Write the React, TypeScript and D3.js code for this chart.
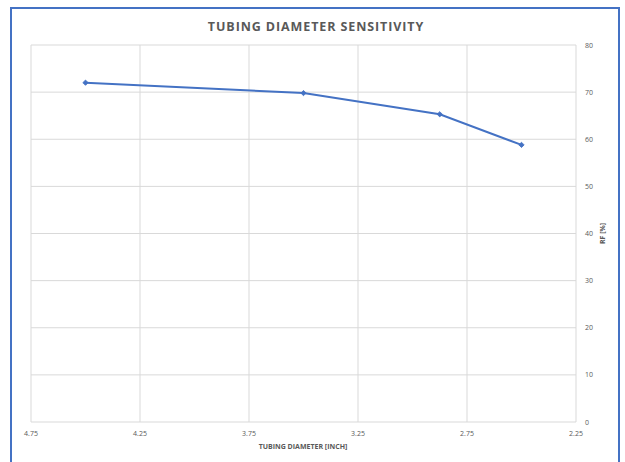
import React from "react";
import * as d3 from "d3";

const diameters = [4.5, 3.5, 2.875, 2.5];
const rfValues = [72.0, 69.8, 65.3, 58.8];
const xTicks = [4.75, 4.25, 3.75, 3.25, 2.75, 2.25];
const yTicks = [0, 10, 20, 30, 40, 50, 60, 70, 80];

const W = 625;
const H = 462;
const plot = { left: 31, right: 576, top: 45, bottom: 422 };
const font = "'Open Sans', 'Noto Sans', sans-serif";
const textColor = "#595959";
const blue = "#4472C4";

export default function App() {
  const x = d3.scaleLinear().domain([4.75, 2.25]).range([plot.left, plot.right]);
  const y = d3.scaleLinear().domain([0, 80]).range([plot.bottom, plot.top]);
  const line = d3
    .line<number>()
    .x((_, i) => x(diameters[i]))
    .y((d) => y(d));
  const marker = d3.symbol().type(d3.symbolSquare).size(14)() as string;

  return (
    <svg
      width={W}
      height={H}
      style={{ position: "absolute", left: 0, top: 0, display: "block" }}
    >
      <rect x={0} y={0} width={W} height={H} fill="#ffffff" />
      <rect x={11} y={8} width={608} height={H + 10} fill="#ffffff" stroke={blue} strokeWidth={2} />
      <text
        x={316}
        y={31}
        textAnchor="middle"
        fontFamily={font}
        fontWeight="bold"
        fontSize={12.5}
        letterSpacing={0.9}
        fill={textColor}
      >
        TUBING DIAMETER SENSITIVITY
      </text>
      {yTicks.map((t) => (
        <line
          key={"gy" + t}
          x1={plot.left}
          x2={plot.right}
          y1={y(t)}
          y2={y(t)}
          stroke="#d9d9d9"
          strokeWidth={1}
        />
      ))}
      {xTicks.map((t) => (
        <line
          key={"gx" + t}
          x1={x(t)}
          x2={x(t)}
          y1={plot.top}
          y2={plot.bottom}
          stroke="#d9d9d9"
          strokeWidth={1}
        />
      ))}
      {yTicks.map((t) => (
        <text
          key={"ly" + t}
          x={585}
          y={y(t) + 2.5}
          fontFamily={font}
          fontSize={7}
          fill={textColor}
        >
          {t}
        </text>
      ))}
      {xTicks.map((t) => (
        <text
          key={"lx" + t}
          x={x(t)}
          y={436}
          textAnchor="middle"
          fontFamily={font}
          fontSize={7}
          fill={textColor}
        >
          {t.toFixed(2)}
        </text>
      ))}
      <text
        x={303}
        y={449}
        textAnchor="middle"
        fontFamily={font}
        fontWeight="bold"
        fontSize={7}
        fill={textColor}
      >
        TUBING DIAMETER [INCH]
      </text>
      <text
        transform={`translate(605,${(plot.top + plot.bottom) / 2}) rotate(-90)`}
        textAnchor="middle"
        fontFamily={font}
        fontWeight="bold"
        fontSize={7}
        fill={textColor}
      >
        RF [%]
      </text>
      <path d={line(rfValues) as string} fill="none" stroke={blue} strokeWidth={2} />
      {rfValues.map((v, i) => (
        <path
          key={"m" + i}
          d={marker}
          transform={`translate(${x(diameters[i])},${y(v)}) rotate(45)`}
          fill={blue}
          stroke={blue}
          strokeWidth={0.8}
        />
      ))}
    </svg>
  );
}
